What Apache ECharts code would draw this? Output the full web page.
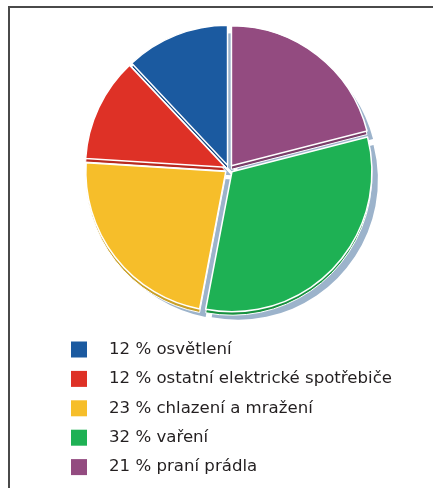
<!DOCTYPE html>
<html>
<head>
<meta charset="utf-8">
<script src="https://cdn.jsdelivr.net/npm/echarts@6/dist/echarts.min.js"></script>
<style>
  html, body { margin: 0; padding: 0; background: #fff; }
  #main { width: 433px; height: 488px; }
</style>
</head>
<body>
<div id="main"></div>
<script>
// podíly spotřeby elektřiny v domácnosti (%)
const categories = ['osvětlení', 'ostatní elektrické spotřebiče', 'chlazení a mražení', 'vaření', 'praní prádla'];
const shares = [12, 12, 23, 32, 21];
const colors = ['#1b5aa0', '#de3126', '#f6be2a', '#1eb154', '#934b80'];
const darkColors = ['#174a85', '#b8291f', '#c9a028', '#17913f', '#7a3d69'];

const chart = echarts.init(document.getElementById('main'), null, { renderer: 'canvas' });

// stejná data pro tři vrstvy: vrchní plocha, hrana, stín
function layer(name, palette, center, z, extra) {
  return Object.assign({
    name: name,
    type: 'pie',
    z: z,
    center: center,
    radius: [0, 140],
    startAngle: 90,
    clockwise: false,
    selectedMode: 'multiple',
    selectedOffset: 4,
    label: { show: false },
    labelLine: { show: false },
    emphasis: { disabled: true },
    silent: true,
    data: categories.map((c, i) => ({
      name: c,
      value: shares[i],
      selected: true,
      itemStyle: { color: palette[i] }
    }))
  }, extra || {});
}

const option = {
  animation: false,
  legend: {
    orient: 'vertical',
    left: 71,
    top: 341,
    padding: 0,
    itemWidth: 16,
    itemHeight: 16,
    itemGap: 12.4,
    icon: 'rect',
    selectedMode: false,
    data: categories,
    formatter: function (name) {
      const i = categories.indexOf(name);
      return shares[i] + ' % ' + name;
    },
    itemStyle: { borderWidth: 0, shadowBlur: 0, shadowOffsetX: 0, shadowOffsetY: 0 },
    textStyle: {
      fontFamily: 'DejaVu Sans, sans-serif',
      fontSize: 16.6,
      color: '#231f20',
      padding: [0, 0, 0, 17]
    }
  },
  graphic: [{
    type: 'polyline',
    shape: { points: [[9, 488], [9, 7], [433, 7]] },
    style: { stroke: '#4a4a4a', lineWidth: 2, fill: null },
    silent: true
  }],
  series: [
    layer('spotreba', colors, [229, 169], 3, {
      itemStyle: { borderColor: '#fff', borderWidth: 1.5 }
    }),
    layer('hrana', darkColors, [229, 172.5], 2, {
      itemStyle: { borderColor: '#fff', borderWidth: 1 }
    }),
    layer('stin', colors.map(() => '#9cb3cb'), [235, 177], 1, {
      itemStyle: { borderWidth: 0 }
    })
  ]
};

chart.setOption(option);
</script>
</body>
</html>
